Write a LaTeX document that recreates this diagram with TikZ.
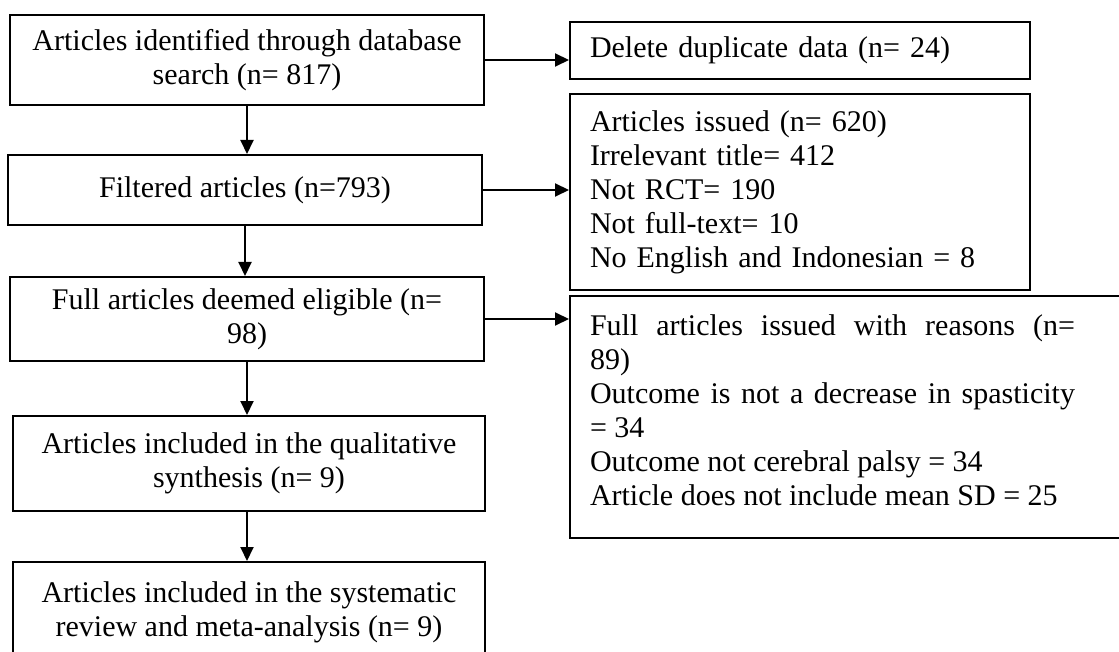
\documentclass[tikz,border=0pt]{standalone}
\usepackage{fontspec}
\setmainfont{Liberation Serif}
\usetikzlibrary{positioning,arrows.meta}

\begin{document}
\begin{tikzpicture}[x=1pt,y=-1pt,
    every node/.style={draw,line width=2pt,inner sep=0pt,
        font=\fontsize{30pt}{34pt}\selectfont},
    flow/.style={-{Triangle[length=14pt,width=13pt]},line width=2pt}]
  \useasboundingbox (0,0) rectangle (1119,652);
  \clip (0,0) rectangle (1119,652);
    %%%%% THE MAIN COLUMN
    \begin{scope}[every node/.append style={align=center}]
      \node[minimum width=474pt,minimum height=90pt] (IDENT) at (247,60)
        {Articles identified through database\\search (n= 817)};
      \node[minimum width=474pt,minimum height=70pt] (FILTER) at (245,190)
        {Filtered articles (n=793)};
      \node[minimum width=474pt,minimum height=84pt] (ELIG) at (247,319)
        {Full articles deemed eligible (n=\\98)};
      \node[minimum width=472pt,minimum height=95pt] (QUAL) at (249,463.5)
        {Articles included in the qualitative\\synthesis (n= 9)};
      \node[minimum width=472pt,minimum height=100pt] (META) at (249,612)
        {Articles included in the systematic\\review and meta-analysis (n= 9)};
    \end{scope}
    %%%%% THE EXCLUSIONS
    \begin{scope}[every node/.append style={align=left,inner xsep=20pt}]
      \node[text width=420pt,minimum height=57pt] (DUPL) at (800,50.5)
        {Delete duplicate data (n= 24)};
      \node[text width=420pt,minimum height=196pt] (ISSUED) at (800,192)
        {Articles issued (n= 620)\\Irrelevant title= 412\\Not RCT= 190\\
         Not full-text= 10\\No English and Indonesian = 8};
      \node[align=justify,text width=520pt,minimum height=242pt] (REASONS) at (850,417)
        {\parbox{485pt}{Full articles issued with reasons (n=\linebreak 89)\\
         Outcome is not a decrease in spasticity\linebreak = 34\\
         Outcome not cerebral palsy = 34\\
         Article does not include mean SD = 25\par\vspace*{14pt}}};
    \end{scope}
    %%%% LINKS DOWN THE COLUMN
    \draw[flow] (IDENT.south) -- (IDENT.south |- FILTER.north);
    \draw[flow] (FILTER.south) -- (FILTER.south |- ELIG.north);
    \draw[flow] (ELIG.south) -- (ELIG.south |- QUAL.north);
    \draw[flow] (ELIG.south |- QUAL.south) -- (ELIG.south |- META.north);
    %%%% LINKS TO THE EXCLUSIONS
    \draw[flow] (IDENT.east) -- (IDENT.east -| DUPL.west);
    \draw[flow] (FILTER.east) -- (FILTER.east -| ISSUED.west);
    \draw[flow] (ELIG.east) -- (ELIG.east -| REASONS.west);
  \end{tikzpicture}
\end{document}
